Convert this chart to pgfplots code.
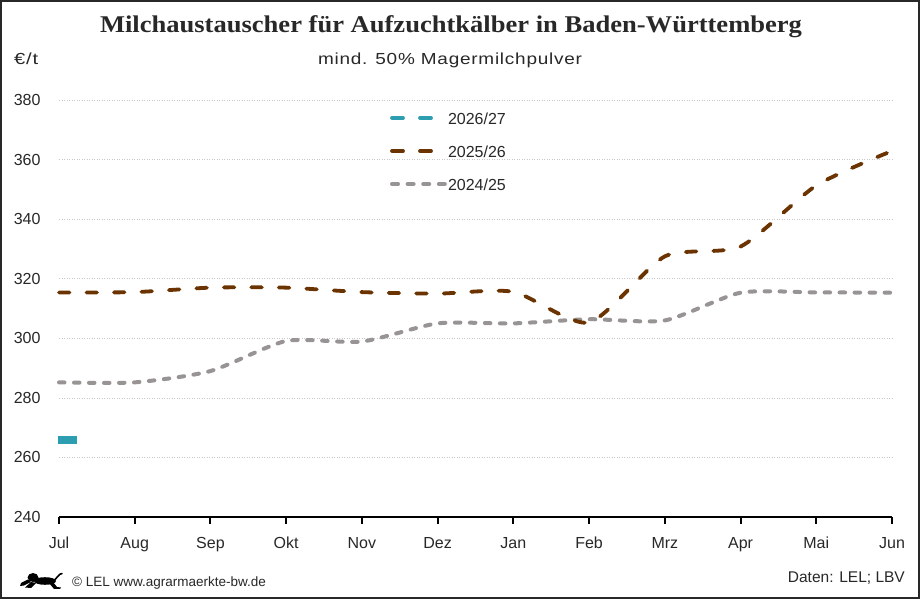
\documentclass[border=0pt]{standalone}
\usepackage{fontspec}
\setmainfont{Liberation Sans}
\newfontfamily\titlefont{Liberation Serif}
\newfontfamily\subfont{Liberation Sans}[LetterSpace=4]
\usepackage{graphicx}
\usepackage{pgfplots}
\pgfplotsset{compat=1.18}

\definecolor{cteal}{RGB}{45,157,176}
\definecolor{cbrown}{RGB}{107,51,0}
\definecolor{cgray}{RGB}{152,148,148}
\definecolor{cframe}{RGB}{40,40,40}
\definecolor{cgrid}{RGB}{200,200,200}
\definecolor{ctext}{RGB}{40,40,40}

\pgfdeclareplotmark{rectright}{\pgfpathrectangle{\pgfpoint{-1pt}{-4pt}}{\pgfpoint{19pt}{8pt}}\pgfusepathqfill}

\pgfplotsset{
  shortleg/.style={legend image code/.code={\draw[##1] (2pt,0pt) -- (42pt,0pt);}},
  longleg/.style={legend image code/.code={\draw[##1] (2pt,0pt) -- (55pt,0pt);}},
}

\begin{document}
\begin{tikzpicture}[x=1pt,y=1pt]
\path[use as bounding box] (0,0) rectangle (920,599);
\fill[white] (0,0) rectangle (920,599);
\draw[cframe, line width=2pt] (1,1) rectangle (919,598);

% title and subtitle
\node[anchor=base, inner sep=0pt, text=ctext, font=\titlefont\bfseries\fontsize{24}{24}\selectfont] at (451,566) {\resizebox{702pt}{\height}{Milchaustauscher für Aufzuchtkälber in Baden-Württemberg}};
\node[anchor=base, inner sep=0pt, text=ctext, font=\subfont\fontsize{16}{16}\selectfont] at (450,534) {\resizebox{264pt}{\height}{mind. 50\% Magermilchpulver}};
\node[anchor=base west, inner sep=0pt, text=ctext, font=\subfont\fontsize{16}{16}\selectfont] at (14,534) {\resizebox{24pt}{\height}{€/t}};

% footer
\node[anchor=base west, inner sep=0pt, text=ctext, font=\fontsize{13.5}{13.5}\selectfont] at (72,12) {© LEL www.agrarmaerkte-bw.de};
\node[anchor=base east, inner sep=0pt, text=ctext, font=\fontsize{15.5}{15.5}\selectfont] at (905,16) {Daten: LEL; LBV};

% lion logo (simplified)
\begin{scope}[shift={(0,599)}, yscale=-1]
\fill[black] (33,577.5) ellipse (5.5 and 4.5);
\fill[black] (45,581) ellipse (11 and 3.8);
\fill[black] (21,583) -- (28,579.5) -- (31,582) -- (24,585.5) -- (20,586) -- cycle;
\fill[black] (25,587.5) -- (31,582) -- (36,583) -- (31,588) -- cycle;
\fill[black] (49,583) -- (53,582) -- (57,587) -- (61,587.5) -- (60,589) -- (54,589) -- cycle;
\draw[black, line width=1.6pt, line cap=round] (55,579.5) .. controls (58,578) and (58,574) .. (62,573.5);
\end{scope}

\begin{axis}[
  at={(59pt,82pt)}, anchor=south west, scale only axis,
  width=833pt, height=417pt,
  xmin=0, xmax=11, ymin=240, ymax=380,
  clip=false,
  axis x line*=bottom, axis y line*=left,
  y axis line style={draw=none},
  x axis line style={black, line width=2pt},
  xtick={0,...,11},
  xticklabels={Jul,Aug,Sep,Okt,Nov,Dez,Jan,Feb,Mrz,Apr,Mai,Jun},
  ytick={240,260,...,380},
  ytick style={draw=none},
  xtick style={black, line width=2pt},
  tick align=outside, major tick length=7pt,
  ymajorgrids,
  grid style={cgrid, dash pattern=on 1pt off 1.5pt, line width=0.7pt},
  tick label style={font=\fontsize{16}{16}\selectfont, text=ctext},
  /pgf/number format/assume math mode=true,
  xticklabel style={text height=11.5pt, text depth=0pt, yshift=-9pt},
  yticklabel style={xshift=-8pt},
  legend style={at={(rel axis cs:0.3974,0.9712)}, anchor=north west, draw=none, fill=none, inner sep=0pt, outer sep=0pt,
    font=\fontsize{16}{16}\selectfont, text=ctext,
    nodes={inner sep=0pt, text height=12pt, text depth=0pt},
    row sep=21pt,
    /tikz/every odd column/.append style={column sep=1pt}},
  legend cell align=left,
]
\addlegendimage{cteal, line width=3.8pt, line cap=round, dash pattern=on 11pt off 17pt, shortleg}
\addlegendentry{2026/27}
\addlegendimage{cbrown, line width=3.8pt, line cap=round, dash pattern=on 11pt off 17pt, shortleg}
\addlegendentry{2025/26}
\addlegendimage{cgray, line width=4pt, line cap=round, dash pattern=on 6pt off 9.6pt, longleg}
\addlegendentry{2024/25}

\addplot[forget plot, cgray, line width=4pt, line cap=round, dash pattern=on 5.5pt off 9.5pt, smooth, tension=0.4] coordinates {
(0,285.2) (1,285.2) (2,289) (3,299.1) (4,298.9) (5,305) (6,305) (7,306.4) (8,306) (9,315.3) (10,315.4) (11,315.3)};
\addplot[forget plot, cbrown, line width=3.8pt, line cap=round, dash pattern=on 10.5pt off 17pt, smooth, tension=0.4] coordinates {
(0,315.4) (1,315.5) (2,317) (3,317) (4,315.5) (5,315) (6,315.6) (7,305.3) (8,327.5) (9,330.8) (10,351.3) (11,362.9)};
\addplot[forget plot, only marks, mark=rectright, cteal] coordinates {(0,265.8)};
\end{axis}
\end{tikzpicture}
\end{document}
